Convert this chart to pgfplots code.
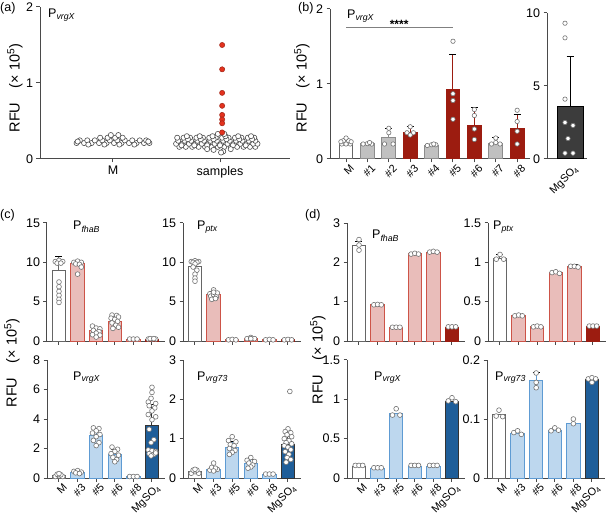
\documentclass[border=0pt]{standalone}
\usepackage{fontspec}
\setmainfont{Liberation Sans}
\usepackage{pgfplots}
\pgfplotsset{compat=1.18}

\definecolor{axc}{HTML}{4A4A4A}
\definecolor{pinkf}{HTML}{E9BDBA}
\definecolor{pinkd}{HTML}{CD5448}
\definecolor{dred}{HTML}{9C1C10}
\definecolor{lbf}{HTML}{BDD7EE}
\definecolor{lbd}{HTML}{5E9BD3}
\definecolor{dbf}{HTML}{1F5E99}
\definecolor{grf}{HTML}{C0C0C0}
\definecolor{dgf}{HTML}{3C3C3C}
\definecolor{ptr}{HTML}{E3321E}

\newcommand{\tks}{\fontsize{12.5}{13}\selectfont}
\newcommand{\rks}{\fontsize{10.8}{11}\selectfont}
\newcommand{\ttl}[1]{P\textsubscript{\itshape #1}}
\newcommand{\rfu}{RFU\quad(× 10\textsuperscript{5})}

\pgfplotsset{
  gp/.style={scale only axis, anchor=south west, clip=false,
    axis x line*=bottom, axis y line*=left,
    axis line style={line width=1pt, axc},
    every tick/.append style={line width=1pt, axc},
    tick align=outside, major tick length=3.5pt,
    ymin=0, tick label style={font=\tks},
    /pgf/number format/assume math mode=true,
    /pgf/number format/fixed},
  cat/.style={xmin=-0.645, xmax=5.7, xtick={0,...,5}, width=118pt, height=118pt, bar width=0.72},
  rot/.style={x tick label style={rotate=45, anchor=north east, inner sep=0pt, font=\rks, xshift=1.5pt, yshift=-3.5pt}},
  bb/.style={ybar, bar shift=0pt, line width=1pt},
  wb/.style={bb, fill=white, draw=black!60},
  gb/.style={bb, fill=grf, draw=black!45},
  rb/.style={bb, fill=dred, draw=dred},
  pb/.style={bb, fill=pinkf, draw=pinkd},
  lb/.style={bb, fill=lbf, draw=lbd},
  db/.style={bb, fill=dbf, draw=black!80},
  kb/.style={bb, fill=dgf, draw=black},
  eb/.style={/pgfplots/error bars/y dir=plus, /pgfplots/error bars/y explicit,
    /pgfplots/error bars/error bar style={line width=1pt},
    /pgfplots/error bars/error mark options={rotate=90, mark size=3.5pt, line width=1pt}},
  pts/.style={only marks, mark=*, mark size=2.4pt, mark options={fill=white, draw=black!55, line width=0.6pt}},
}

\begin{document}
\begin{tikzpicture}
\path[use as bounding box] (0pt,0pt) rectangle (606pt,-516pt);

% ---------- (a)
\begin{axis}[gp, at={(40pt,-159pt)}, width=250pt, height=152pt,
  xmin=0.318, xmax=2.654, ymax=2, ytick={0,1,2},
  xtick={1,2}, xticklabels={M,samples}]
\addplot[only marks, mark=*, mark size=2.6pt, mark options={fill=white, draw=black!70, line width=0.6pt}] coordinates {
(0.66,0.21)(0.73,0.21)(0.80,0.21)(0.87,0.21)(0.94,0.21)(1.01,0.21)(1.08,0.21)(1.15,0.21)(1.22,0.21)(1.29,0.21)(1.34,0.21)
(0.69,0.245)(0.76,0.245)(0.83,0.245)(0.90,0.245)(0.97,0.245)(1.04,0.245)(1.11,0.245)(1.18,0.245)(1.25,0.245)(1.31,0.245)
(0.77,0.19)(0.92,0.19)(1.06,0.19)(1.20,0.19)
(0.88,0.28)(0.95,0.28)(1.02,0.28)(1.09,0.28)
(0.98,0.315)(1.05,0.315)(0.67,0.23)(1.33,0.23)
(1.62,0.16)(1.68,0.16)(1.74,0.16)(1.80,0.16)(1.86,0.16)(1.92,0.16)(1.98,0.16)(2.04,0.16)(2.10,0.16)(2.16,0.16)(2.22,0.16)(2.28,0.16)(2.33,0.16)
(1.59,0.20)(1.65,0.20)(1.71,0.20)(1.77,0.20)(1.83,0.20)(1.89,0.20)(1.95,0.20)(2.01,0.20)(2.07,0.20)(2.13,0.20)(2.19,0.20)(2.25,0.20)(2.31,0.20)(2.35,0.20)
(1.61,0.24)(1.67,0.24)(1.73,0.24)(1.79,0.24)(1.85,0.24)(1.91,0.24)(1.97,0.24)(2.03,0.24)(2.09,0.24)(2.15,0.24)(2.21,0.24)(2.27,0.24)(2.33,0.24)
(1.60,0.28)(1.66,0.28)(1.72,0.28)(1.78,0.28)(1.84,0.28)(1.90,0.28)(1.96,0.28)(2.02,0.28)(2.08,0.28)(2.14,0.28)(2.20,0.28)(2.26,0.28)(2.32,0.28)
(1.64,0.18)(1.76,0.18)(1.88,0.18)(2.00,0.18)(2.12,0.18)(2.24,0.18)
(1.70,0.26)(1.82,0.26)(1.94,0.26)(2.06,0.26)(2.18,0.26)(2.30,0.26)
(1.69,0.30)(1.81,0.30)(1.93,0.30)(2.05,0.30)(2.17,0.30)(2.29,0.30)
(1.94,0.12)(2.03,0.10)(2.10,0.13)(1.88,0.13)(2.01,0.085)(1.98,0.33)(2.04,0.33)
};
\addplot[only marks, mark=*, mark size=2.6pt, mark options={fill=ptr, draw=ptr!70!black, line width=0.5pt}] coordinates {
(2.02,1.5)(2.02,1.18)(2.02,0.87)(2.02,0.70)(2.02,0.58)(2.02,0.52)(2.02,0.47)(2.02,0.35)
};
\end{axis}

% ---------- (b) main
\begin{axis}[gp, at={(330pt,-159pt)}, width=200pt, height=150pt,
  xmin=-0.75, xmax=8.6, ymax=2, ytick={0,1,2}, xtick={0,...,8},
  xticklabels={M,\#1,\#2,\#3,\#4,\#5,\#6,\#7,\#8}, rot, bar width=0.65]
\addplot[wb] coordinates {(0,0.21)};
\addplot[gb] coordinates {(1,0.2)};
\addplot[gb,eb] coordinates {(2,0.28) +- (0,0.13)};
\addplot[rb,eb] coordinates {(3,0.35) +- (0,0.08)};
\addplot[gb] coordinates {(4,0.18)};
\addplot[rb,eb] coordinates {(5,0.92) +- (0,0.47)};
\addplot[rb,eb] coordinates {(6,0.45) +- (0,0.23)};
\addplot[gb,eb] coordinates {(7,0.2) +- (0,0.09)};
\addplot[rb,eb] coordinates {(8,0.40) +- (0,0.19)};
\addplot[pts, mark size=2.2pt] coordinates {
(-0.2,0.2)(0,0.2)(0.2,0.2)(-0.12,0.245)(0.12,0.245)(0,0.28)(-0.24,0.23)(0.24,0.23)
(0.8,0.2)(1,0.205)(1.2,0.2)(1.1,0.22)
(2,0.41)(2,0.35)(1.8,0.2)(2.2,0.2)
(3,0.43)(2.85,0.35)(3.15,0.35)(3,0.32)
(3.8,0.18)(4,0.19)(4.2,0.19)(4.1,0.2)
(5,1.57)(5,0.87)(5,0.78)(5,0.53)
(6,0.66)(6,0.58)(6,0.4)(6,0.26)
(7,0.28)(6.8,0.2)(7.2,0.2)(7,0.22)
(8,0.65)(8,0.5)(8,0.37)(8,0.2)
};
\draw[line width=1pt, black!50] (axis cs:0,1.75) -- (axis cs:5,1.75);
\node[font=\bfseries\fontsize{12}{12}\selectfont] at (axis cs:2.48,1.80) {****};
\end{axis}

% ---------- (b) MgSO4
\begin{axis}[gp, at={(547pt,-159pt)}, width=40pt, height=146pt,
  xmin=-0.92, xmax=0.68, ymax=10, ytick={0,5,10},
  xtick={0}, xticklabels={MgSO\textsubscript{4}}, rot, bar width=1.04,
  major x tick style={draw=none}]
\addplot[kb,eb] coordinates {(0,3.6) +- (0,3.4)};
\addplot[pts, mark size=2.2pt] coordinates {
(-0.2,9.3)(-0.2,8.3)(-0.2,4.1)(-0.2,2.5)(0.12,2.3)(-0.08,1.4)(-0.2,0.4)(0.12,0.4)
};
\end{axis}

% ---------- (c) top-left
\begin{axis}[gp, cat, at={(47pt,-341pt)}, ymax=15, ytick={0,5,10,15}, xticklabels={}]
\addplot[wb,eb] coordinates {(0,8.9) +- (0,1.8)};
\addplot[pb,eb] coordinates {(1,9.8) +- (0,0.3)};
\addplot[pb,eb] coordinates {(2,1.3) +- (0,0.45)};
\addplot[pb,eb] coordinates {(3,2.5) +- (0,0.6)};
\addplot[pb] coordinates {(4,0.2)};
\addplot[rb] coordinates {(5,0.2)};
\addplot[pts] coordinates {
(-0.2,10.1)(0,10.25)(0.2,10.1)(-0.1,9.9)(0.1,9.9)(0,7.5)(0,6.9)(0,6.3)(0,5.8)(0,5.3)(0,4.9)
(0.8,10.0)(1,10.15)(1.2,10.0)(0.9,9.8)(1.1,9.75)(1.0,8.5)(1.2,9.4)
(1.8,1.9)(2.0,1.65)(2.2,1.55)(1.85,1.35)(2.15,1.2)(2.0,1.0)(1.8,0.8)(2.2,0.75)(2,0.5)
(2.85,3.3)(3.1,3.25)(3.2,3.05)(2.8,2.9)(3,2.75)(3.15,2.5)(2.85,2.3)(3.05,2.0)(3.2,1.75)(2.9,1.6)
(3.8,0.25)(4.0,0.25)(4.2,0.25)
(4.8,0.25)(5.0,0.25)(5.2,0.25)(4.9,0.3)(5.1,0.3)
};
\end{axis}

% ---------- (c) top-right
\begin{axis}[gp, cat, at={(183pt,-341pt)}, ymax=15, ytick={0,5,10,15}, xticklabels={}]
\addplot[wb,eb] coordinates {(0,9.5) +- (0,0.6)};
\addplot[pb,eb] coordinates {(1,5.9) +- (0,0.35)};
\addplot[pb] coordinates {(2,0.15)};
\addplot[pb] coordinates {(3,0.3)};
\addplot[pb] coordinates {(4,0.15)};
\addplot[rb] coordinates {(5,0.15)};
\addplot[pts] coordinates {
(-0.2,10.1)(0,10.2)(0.2,10.1)(-0.1,10.0)(0.1,10.0)(0,9.8)(-0.1,9.4)(0.1,9.0)(0,8.5)(0,8.0)(0,7.6)
(0.8,6.0)(1.0,6.5)(1.2,6.1)(0.85,5.7)(1.0,5.9)(1.15,5.6)(0.9,5.3)(1.1,5.4)(1,6.2)
(1.8,0.15)(2,0.2)(2.2,0.15)
(2.8,0.3)(3,0.45)(3.2,0.3)(3.0,0.3)
(3.8,0.15)(4,0.2)(4.2,0.15)
(4.8,0.15)(5,0.2)(5.2,0.15)
};
\end{axis}

% ---------- (c) bottom-left
\begin{axis}[gp, cat, at={(47pt,-478pt)}, ymax=8, ytick={0,2,4,6,8},
  xticklabels={M,\#3,\#5,\#6,\#8,MgSO\textsubscript{4}}, rot]
\addplot[wb] coordinates {(0,0.15)};
\addplot[lb] coordinates {(1,0.4)};
\addplot[lb,eb] coordinates {(2,2.9) +- (0,0.45)};
\addplot[lb,eb] coordinates {(3,1.6) +- (0,0.35)};
\addplot[lb] coordinates {(4,0.1)};
\addplot[db,eb] coordinates {(5,3.55) +- (0,1.45)};
\addplot[pts] coordinates {
(-0.2,0.1)(0,0.15)(0.2,0.1)(-0.1,0.25)(0.1,0.22)(0,0.3)
(0.8,0.45)(1,0.5)(1.2,0.4)(0.9,0.35)(1.1,0.3)
(1.85,3.4)(2.15,3.35)(2.0,3.2)(1.8,3.05)(2.2,2.95)(2.0,2.8)(1.85,2.55)(2.15,2.4)(2,2.2)
(2.85,2.1)(3.15,1.95)(3,1.8)(2.8,1.65)(3.2,1.55)(2.9,1.4)(3.1,1.25)(3,1.1)
(3.8,0.1)(4,0.1)(4.2,0.1)
(5,6.15)(5,5.8)(4.95,5.4)(4.8,5.15)(5.2,5.05)(4.85,4.9)(5.15,4.75)(5,4.55)(4.8,4.3)(5.2,4.15)(5,3.95)(4.85,3.3)(5.1,2.6)(4.95,2.4)(4.8,1.9)(5.0,1.85)(5.2,1.8)(4.85,1.65)(5.1,1.6)(4.95,1.5)(5.2,1.7)
};
\end{axis}

% ---------- (c) bottom-right
\begin{axis}[gp, cat, at={(183pt,-478pt)}, ymax=3, ytick={0,1,2,3},
  xticklabels={M,\#3,\#5,\#6,\#8,MgSO\textsubscript{4}}, rot]
\addplot[wb] coordinates {(0,0.17)};
\addplot[lb] coordinates {(1,0.22)};
\addplot[lb,eb] coordinates {(2,0.78) +- (0,0.15)};
\addplot[lb,eb] coordinates {(3,0.36) +- (0,0.1)};
\addplot[lb] coordinates {(4,0.1)};
\addplot[db,eb] coordinates {(5,0.85) +- (0,0.27)};
\addplot[pts] coordinates {
(-0.2,0.12)(0,0.16)(0.2,0.12)(-0.1,0.2)(0.1,0.2)(0,0.22)
(0.8,0.2)(1,0.38)(1.2,0.22)(0.9,0.27)(1.1,0.25)(1,0.18)
(2,1.05)(1.8,0.95)(2.2,0.92)(1.9,0.85)(2.1,0.82)(1.85,0.75)(2.15,0.7)(2,0.65)(1.85,0.6)
(3,0.52)(2.8,0.45)(3.2,0.42)(2.9,0.38)(3.1,0.33)(3,0.28)(2.85,0.25)
(3.8,0.1)(4,0.1)(4.2,0.1)
(5.1,2.2)(5,1.25)(4.85,1.18)(5.15,1.15)(4.95,1.1)(5.2,1.05)(4.8,1.0)(5.05,0.95)(4.9,0.9)(5.2,0.87)(4.8,0.82)(5.0,0.78)(5.15,0.72)(4.85,0.67)(5.05,0.6)(4.95,0.52)(5.15,0.47)(4.9,0.4)
};
\end{axis}

% ---------- (d) top-left
\begin{axis}[gp, cat, at={(347pt,-341pt)}, ymax=3, ytick={0,1,2,3}, xticklabels={}]
\addplot[wb,eb] coordinates {(0,2.43) +- (0,0.1)};
\addplot[pb] coordinates {(1,0.92)};
\addplot[pb] coordinates {(2,0.35)};
\addplot[pb] coordinates {(3,2.22)};
\addplot[pb] coordinates {(4,2.26)};
\addplot[rb] coordinates {(5,0.35)};
\addplot[pts] coordinates {
(0,2.58)(0,2.44)(0,2.31)
(0.8,0.92)(1,0.93)(1.2,0.92)
(1.8,0.35)(2,0.35)(2.2,0.35)
(2.8,2.21)(3,2.23)(3.2,2.21)
(3.8,2.26)(4,2.28)(4.2,2.26)
(4.8,0.36)(5,0.36)(5.2,0.36)
};
\end{axis}

% ---------- (d) top-right
\begin{axis}[gp, cat, at={(488pt,-341pt)}, ymax=1.5, ytick={0,0.5,1,1.5}, xticklabels={}]
\addplot[wb,eb] coordinates {(0,1.05) +- (0,0.05)};
\addplot[pb] coordinates {(1,0.32)};
\addplot[pb] coordinates {(2,0.18)};
\addplot[pb] coordinates {(3,0.87)};
\addplot[pb,eb] coordinates {(4,0.95) +- (0,0.02)};
\addplot[rb] coordinates {(5,0.18)};
\addplot[pts] coordinates {
(0,1.1)(-0.2,1.04)(0.2,1.04)
(0.8,0.32)(1,0.33)(1.2,0.32)
(1.8,0.18)(2,0.19)(2.2,0.18)
(2.8,0.87)(3,0.88)(3.2,0.86)
(3.8,0.95)(4,0.95)(4.2,0.94)
(4.8,0.19)(5,0.19)(5.2,0.19)
};
\end{axis}

% ---------- (d) bottom-left
\begin{axis}[gp, cat, at={(347pt,-478pt)}, ymax=1.5, ytick={0,0.5,1,1.5},
  xticklabels={M,\#3,\#5,\#6,\#8,MgSO\textsubscript{4}}, rot]
\addplot[wb] coordinates {(0,0.15)};
\addplot[lb] coordinates {(1,0.12)};
\addplot[lb] coordinates {(2,0.82)};
\addplot[lb] coordinates {(3,0.15)};
\addplot[lb] coordinates {(4,0.15)};
\addplot[db] coordinates {(5,0.97)};
\addplot[pts] coordinates {
(-0.2,0.16)(0,0.16)(0.2,0.16)
(0.8,0.13)(1,0.13)(1.2,0.13)
(1.8,0.8)(2,0.88)(2.2,0.8)
(2.8,0.16)(3,0.16)(3.2,0.16)
(3.8,0.16)(4,0.16)(4.2,0.16)
(4.8,0.98)(5,1.02)(5.2,0.97)
};
\end{axis}

% ---------- (d) bottom-right
\begin{axis}[gp, cat, at={(487pt,-478pt)}, ymax=0.2, ytick={0,0.1,0.2},
  xticklabels={M,\#3,\#5,\#6,\#8,MgSO\textsubscript{4}}, rot]
\addplot[wb] coordinates {(0,0.108)};
\addplot[lb] coordinates {(1,0.075)};
\addplot[lb,eb] coordinates {(2,0.165) +- (0,0.013)};
\addplot[lb] coordinates {(3,0.08)};
\addplot[lb] coordinates {(4,0.093)};
\addplot[db] coordinates {(5,0.167)};
\addplot[pts] coordinates {
(-0.15,0.105)(0,0.115)(0.2,0.104)
(0.8,0.077)(1,0.08)(1.2,0.074)
(2,0.178)(2,0.162)(2,0.153)
(2.8,0.08)(3,0.085)(3.2,0.081)
(4,0.1)(4,0.092)
(4.8,0.168)(5,0.17)(5.2,0.168)(5,0.162)
};
\end{axis}

% ---------- labels
\begin{scope}[every node/.style={font=\fontsize{12.5}{14}\selectfont, inner sep=0pt}]
\node[anchor=west] at (0pt,-8pt) {(a)};
\node[anchor=west] at (298pt,-8pt) {(b)};
\node[anchor=west] at (0pt,-215pt) {(c)};
\node[anchor=west] at (305pt,-215pt) {(d)};
\node[anchor=base west] at (48pt,-18pt) {\ttl{vrgX}};
\node[anchor=base west] at (347pt,-19pt) {\ttl{vrgX}};
\node[anchor=base west] at (73pt,-230pt) {\ttl{fhaB}};
\node[anchor=base west] at (197pt,-230pt) {\ttl{ptx}};
\node[anchor=base west] at (73pt,-380pt) {\ttl{vrgX}};
\node[anchor=base west] at (197pt,-380pt) {\ttl{vrg73}};
\node[anchor=base west] at (372pt,-239pt) {\ttl{fhaB}};
\node[anchor=base west] at (493pt,-230pt) {\ttl{ptx}};
\node[anchor=base west] at (374pt,-380pt) {\ttl{vrgX}};
\node[anchor=base west] at (495pt,-380pt) {\ttl{vrg73}};
\end{scope}
\begin{scope}[every node/.style={font=\fontsize{14.5}{15}\selectfont, inner sep=0pt, rotate=90}]
\node at (15pt,-88pt) {\rfu};
\node at (302pt,-88pt) {\rfu};
\node at (12pt,-363pt) {\rfu};
\node at (318pt,-360pt) {\rfu};
\end{scope}
\end{tikzpicture}
\end{document}
